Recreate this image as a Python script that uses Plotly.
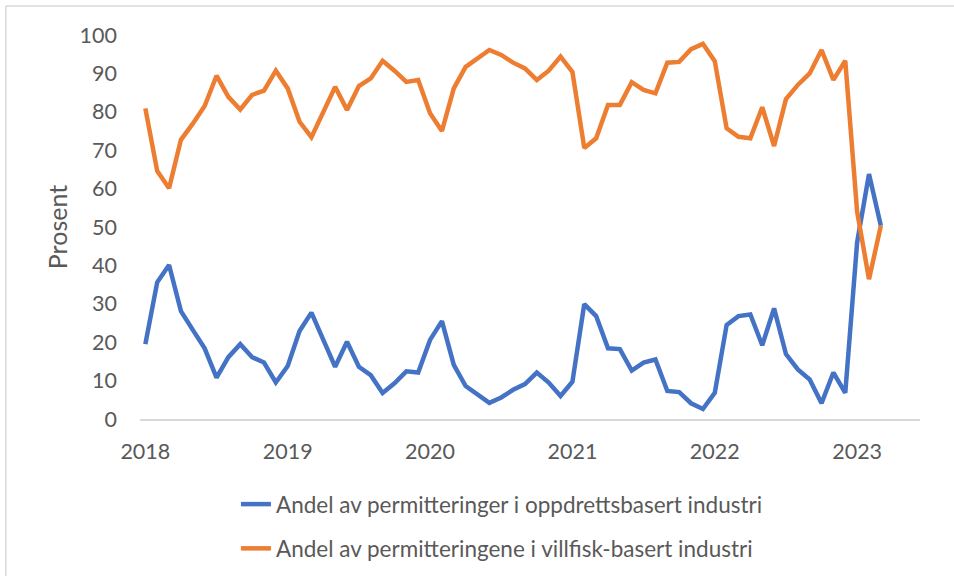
import plotly.graph_objects as go

years = ["2018", "2019", "2020", "2021", "2022", "2023"]
months = list(range(63))  # Jan 2018 .. Mar 2023, month index

oppdrett = [
    19.5, 35.6, 40.1, 28.1, 23.2, 18.4, 10.8, 16.1, 19.5, 16.1, 14.7, 9.5,
    13.8, 22.9, 27.7, 20.6, 13.6, 20.1, 13.6, 11.4, 6.8, 9.3, 12.4, 12.1,
    20.6, 25.5, 14.1, 8.6, 6.5, 4.2, 5.6, 7.6, 9.1, 12.1, 9.5, 6.0,
    9.7, 29.9, 26.8, 18.4, 18.2, 12.6, 14.7, 15.5, 7.3, 7.0, 4.1, 2.6,
    6.8, 24.5, 26.8, 27.2, 19.2, 28.8, 16.9, 12.9, 10.3, 4.1, 12.1, 6.8,
    46.0, 63.8, 50.3,
]
villfisk = [
    80.9, 64.6, 60.1, 72.7, 76.9, 81.5, 89.4, 83.9, 80.6, 84.4, 85.5, 90.7,
    86.1, 77.4, 73.4, 80.0, 86.5, 80.5, 86.7, 88.7, 93.3, 90.7, 87.8, 88.3,
    79.6, 75.0, 86.1, 91.7, 93.9, 96.1, 94.8, 92.8, 91.3, 88.3, 90.7, 94.4,
    90.4, 70.6, 73.1, 81.8, 81.8, 87.7, 85.7, 84.8, 92.8, 93.0, 96.3, 97.7,
    93.2, 75.7, 73.5, 73.1, 81.2, 71.1, 83.3, 87.0, 90.0, 96.1, 88.3, 93.3,
    54.0, 36.4, 50.3,
]
names = [
    "Andel av permitteringer i oppdrettsbasert industri",
    "Andel av permitteringene i villfisk-basert industri",
]
colors = ["#4472C4", "#ED7D31"]

font_family = "Lato, 'Open Sans', sans-serif"
grey = "#595959"

fig = go.Figure()
for i, (vals, name, col) in enumerate(zip([oppdrett, villfisk], names, colors)):
    fig.add_trace(go.Scatter(
        x=months, y=vals, mode="lines", name=name, legendgroup=f"g{i}",
        line=dict(color=col, width=4.5),
    ))

fig.update_layout(
    width=954, height=576,
    margin=dict(l=140, r=34, t=35, b=157, autoexpand=False),
    paper_bgcolor="white", plot_bgcolor="white",
    font=dict(family=font_family, color=grey, size=21.5),
    showlegend=True,
    legend=dict(
        orientation="v", x=0.123, xanchor="left",
        yref="container", y=0.1615, yanchor="top",
        font=dict(size=22.5, color=grey), tracegroupgap=12,
        bgcolor="rgba(0,0,0,0)",
    ),
    xaxis=dict(
        range=[-0.45, 65.3], tickvals=[0, 12, 24, 36, 48, 60], ticktext=years,
        showgrid=False, zeroline=False, showline=True, linecolor="#d9d9d9",
        linewidth=1.5, ticks="", ticklabelstandoff=12,
        tickfont=dict(size=21.5, color=grey),
    ),
    yaxis=dict(
        range=[0, 100], dtick=10, showgrid=False, zeroline=False,
        showline=False, ticks="", ticklabelstandoff=22,
        tickfont=dict(size=21.5, color=grey),
        title=dict(text="Prosent", font=dict(size=25, color=grey), standoff=4),
    ),
    shapes=[
        dict(type="line", xref="paper", yref="paper", x0=-0.172, x1=1.1,
             y0=1.0756, y1=1.0756, line=dict(color="#d9d9d9", width=1.5)),
        dict(type="line", xref="paper", yref="paper", x0=-0.172, x1=-0.172,
             y0=1.0756, y1=-0.45, line=dict(color="#d9d9d9", width=1.5)),
    ],
)

fig.write_html("out.html", config={"displayModeBar": False},
               post_script="document.body.style.margin='0';")
